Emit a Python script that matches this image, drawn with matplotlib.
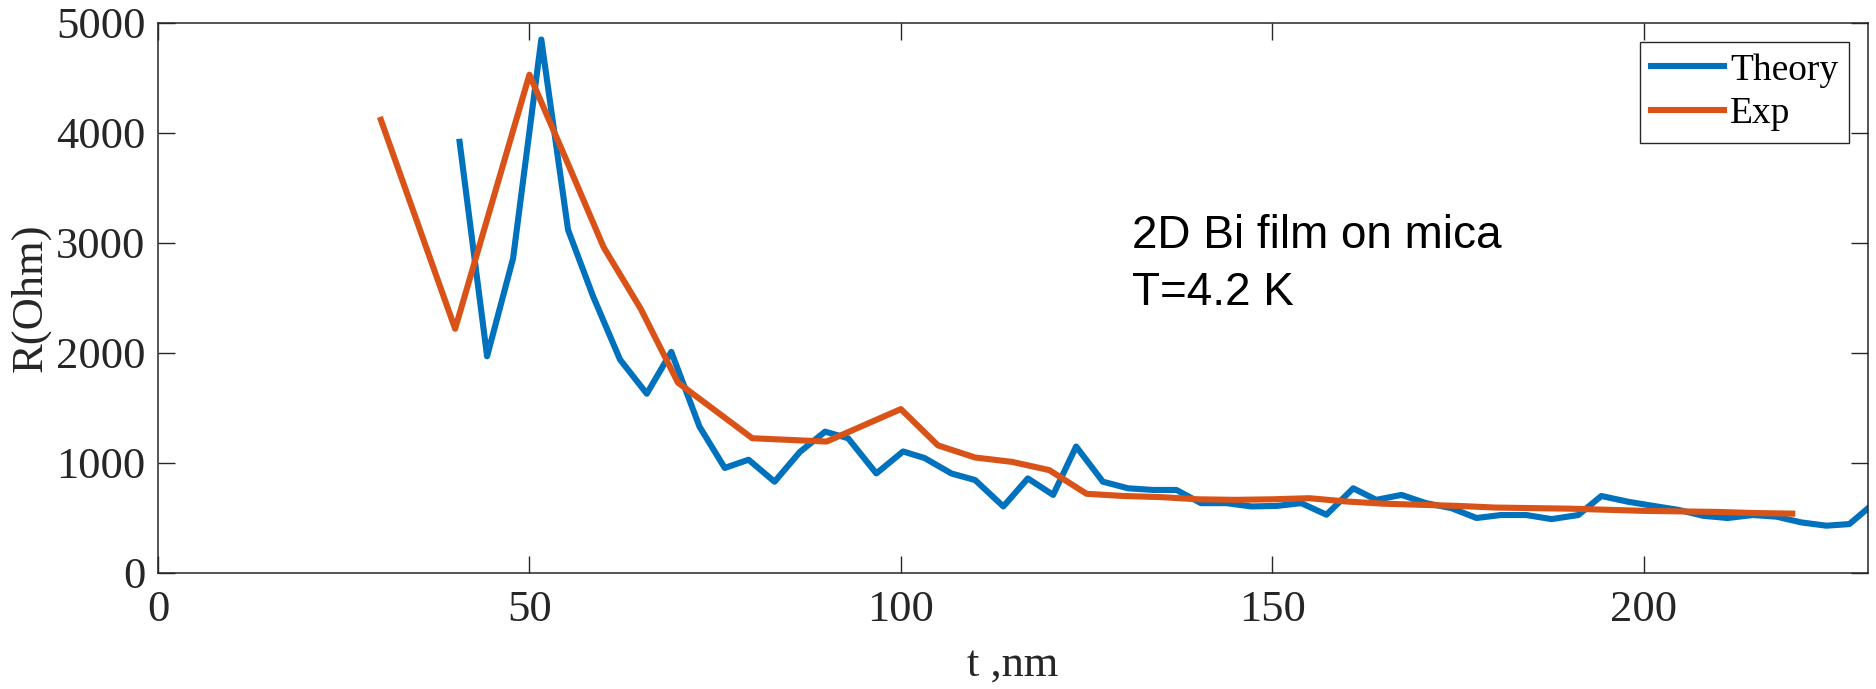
import matplotlib
matplotlib.use("Agg")
import matplotlib.pyplot as plt

# Theory curve (blue)
theory_t = [40.6, 44.3, 47.8, 51.6, 55.2, 58.6, 62.2, 65.8, 69.1, 72.9,
            76.3, 79.5, 83.0, 86.4, 89.8, 92.9, 96.7, 100.3, 103.2, 106.8,
            110.0, 113.8, 117.1, 120.5, 123.6, 127.2, 130.6, 134.0, 137.1, 140.4,
            143.8, 147.2, 150.6, 153.9, 157.3, 160.9, 164.0, 167.4, 170.7, 174.1,
            177.5, 180.8, 184.2, 187.6, 191.2, 194.3, 197.9, 201.3, 204.6, 208.0,
            211.3, 214.7, 217.9, 221.2, 224.6, 227.7, 230.4]
theory_r = [3920, 1970, 2860, 4850, 3120, 2510, 1940, 1630, 2010, 1330,
            955, 1030, 830, 1100, 1285, 1225, 905, 1105, 1045, 905,
            845, 605, 860, 710, 1150, 830, 770, 755, 755, 635,
            635, 605, 610, 635, 530, 770, 665, 710, 635, 590,
            500, 527, 527, 490, 527, 700, 648, 610, 575, 520,
            500, 527, 512, 460, 430, 445, 600]

# Experiment curve (orange)
exp_t = [30, 40, 50, 55, 60, 65, 70, 80, 90, 100, 105, 110, 115, 120, 125,
         130, 135, 140, 145, 150, 155, 160, 165, 170, 175, 180, 185, 190, 195,
         200, 205, 210, 215, 220]
exp_r = [4120, 2220, 4530, 3750, 2960, 2400, 1730, 1225, 1195, 1490, 1160,
         1050, 1010, 935, 720, 700, 690, 670, 665, 670, 680, 650, 630, 620,
         610, 595, 590, 585, 575, 565, 560, 555, 545, 540]

x_ticks = [0, 50, 100, 150, 200]
y_ticks = [0, 1000, 2000, 3000, 4000, 5000]

BLUE = "#0072BD"
ORANGE = "#D95319"
AXIS = "#262626"

plt.rcParams["font.family"] = ["Liberation Serif", "DejaVu Serif"]

fig = plt.figure(figsize=(18.76, 6.89), dpi=100)
ax = fig.add_axes([158 / 1876, 1 - 573 / 689, 1710 / 1876, 550 / 689])

ax.plot(theory_t, theory_r, color=BLUE, lw=4.4, label="Theory")
ax.plot(exp_t, exp_r, color=ORANGE, lw=4.4, label="Exp")

ax.set_xlim(0, 230.2)
ax.set_ylim(0, 5000)
ax.set_xticks(x_ticks)
ax.set_yticks(y_ticks)

for side in ax.spines.values():
    side.set_color(AXIS)
    side.set_linewidth(1.1)
ax.tick_params(direction="in", length=12, width=1.0, color=AXIS,
               labelcolor=AXIS, labelsize=32, top=True, right=True)
ax.tick_params(axis="x", pad=12)
ax.tick_params(axis="y", pad=9)

ax.set_xlabel("t ,nm", fontsize=32, color=AXIS)
ax.set_ylabel("R(Ohm)", fontsize=32, color=AXIS)
ax.xaxis.set_label_coords(0.5, -0.13)
ax.yaxis.set_label_coords(-0.063, 0.5)

leg = ax.legend(loc="upper right", fontsize=27, frameon=True, fancybox=False,
                edgecolor=AXIS, framealpha=1, borderaxespad=0.5,
                handlelength=1.95, handletextpad=0.15, labelspacing=0.25,
                borderpad=0.3)
leg.get_frame().set_linewidth(1.0)

ax.text(0.5696, 0.591, "2D Bi film on mica", transform=ax.transAxes,
        family="Liberation Sans", fontsize=33, va="baseline", ha="left")
ax.text(0.5696, 0.487, "T=4.2 K", transform=ax.transAxes,
        family="Liberation Sans", fontsize=33, va="baseline", ha="left")

fig.savefig("out.png", dpi=100)
